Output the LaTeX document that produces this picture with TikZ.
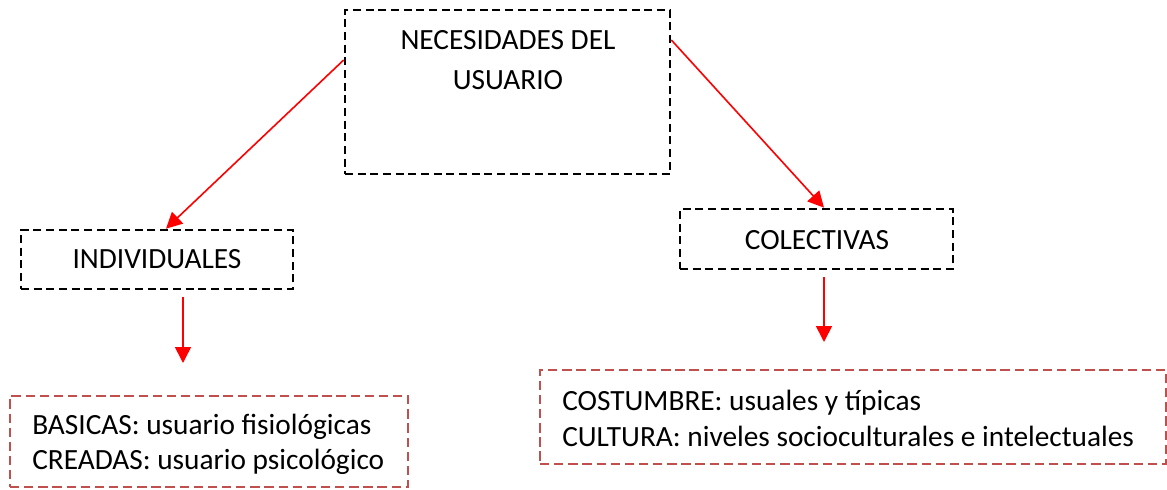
\documentclass[tikz,border=0pt]{standalone}
\usepackage{fontspec}
\setmainfont{Carlito}
\usetikzlibrary{arrows.meta}
\definecolor{boxred}{HTML}{C0504D}
\tikzset{
  blackbox/.style={draw=black, line width=2pt, dash pattern=on 6pt off 3.5pt, rectangle, inner sep=0pt},
  redbox/.style={draw=boxred, line width=1.9pt, dash pattern=on 7pt off 3.6pt, rectangle, inner sep=0pt},
  txt/.style={font=\fontsize{22}{27.75}\selectfont, inner sep=0pt, anchor=base},
  ltxt/.style={font=\fontsize{22}{27.75}\selectfont, inner sep=0pt, anchor=base west},
  arr/.style={draw=red, line width=1.2pt, -{Triangle[length=12pt,width=12pt]}}
}
\begin{document}
\begin{tikzpicture}[x=0.75pt,y=-0.75pt]
\useasboundingbox (0,0) rectangle (1167,489);
% boxes
\node[blackbox, minimum width=325*0.75pt, minimum height=164*0.75pt] (top) at (507.5,92) {};
\node[blackbox, minimum width=272*0.75pt, minimum height=59*0.75pt] (ind) at (157,259.5) {};
\node[blackbox, minimum width=273*0.75pt, minimum height=60*0.75pt] (col) at (816.5,239) {};
\node[redbox, minimum width=398*0.75pt, minimum height=91*0.75pt] (basic) at (209,441.5) {};
\node[redbox, minimum width=626*0.75pt, minimum height=94*0.75pt] (cult) at (853,417) {};
% texts
\node[txt] (t1) at (508,49) {NECESIDADES DEL};
\node[txt] (t2) at (508,89) {USUARIO};
\node[txt] (t3) at (157,268) {INDIVIDUALES};
\node[txt] (t4) at (817,249) {COLECTIVAS};
\node[ltxt] (t5) at (32,434) {BASICAS: usuario fisiológicas};
\node[ltxt] (t6) at (32,469) {CREADAS: usuario psicológico};
\node[ltxt] (t7) at (562,410) {COSTUMBRE: usuales y típicas};
\node[ltxt] (t8) at (562,446) {CULTURA: niveles socioculturales e intelectuales};
% connectors
\draw[arr] (top.west |- 0,60) -- (ind.north -| 166,0);
\draw[arr] (top.east |- 0,40) -- (col.north -| 824,0);
\coordinate (d1s) at (183,297);
\coordinate (d1e) at (183,363);
\coordinate (d2s) at (824,277);
\coordinate (d2e) at (824,342);
\draw[arr] (d1s) -- (d1e);
\draw[arr] (d2s) -- (d2e);
\end{tikzpicture}
\end{document}
